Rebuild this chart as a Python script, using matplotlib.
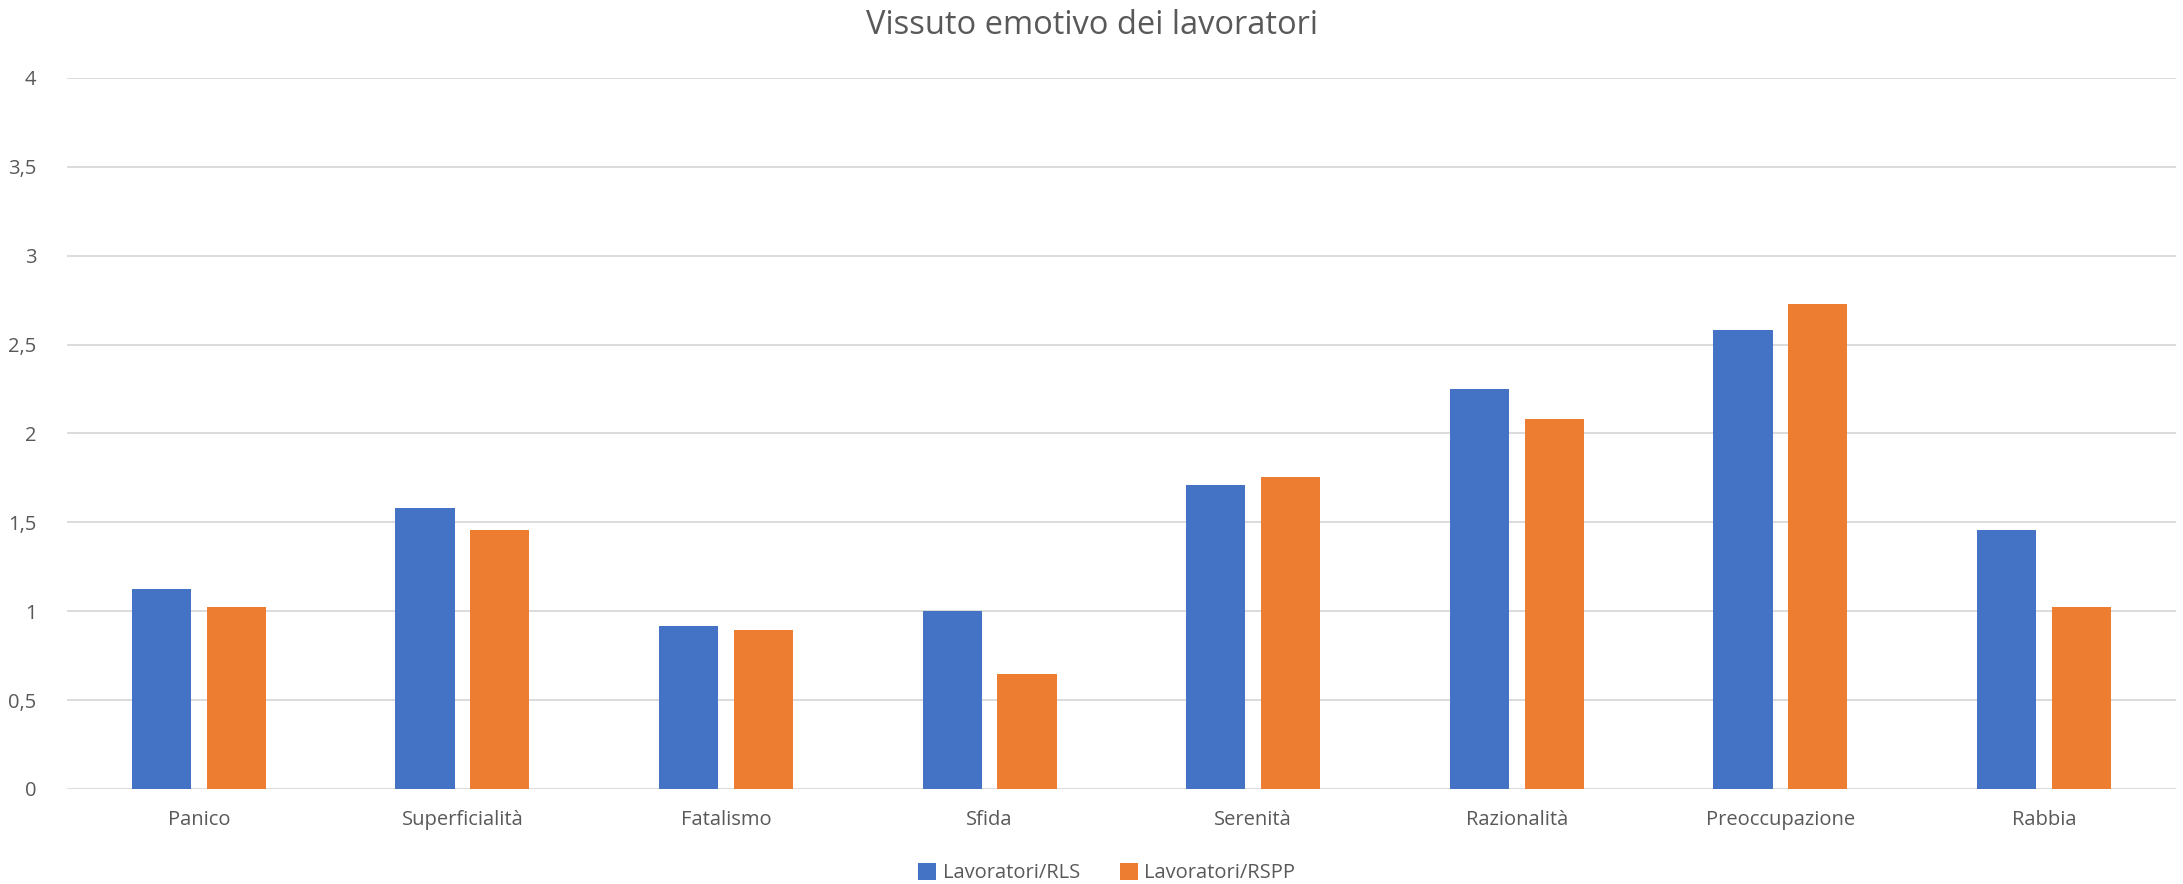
import numpy as np
import matplotlib
matplotlib.use('Agg')
import matplotlib.pyplot as plt
from matplotlib.ticker import FuncFormatter

categories = ['Panico', 'Superficialità', 'Fatalismo', 'Sfida', 'Serenità',
              'Razionalità', 'Preoccupazione', 'Rabbia']
rls = [1.125, 1.583, 0.917, 1.0, 1.708, 2.25, 2.583, 1.458]
rspp = [1.026, 1.459, 0.892, 0.649, 1.757, 2.081, 2.730, 1.026]
series_names = ['Lavoratori/RLS', 'Lavoratori/RSPP']

plt.rcParams['font.family'] = ['Open Sans', 'DejaVu Sans']
txt = '#595959'

fig = plt.figure(figsize=(21.83, 8.84), dpi=100)
ax = fig.add_axes([0.0307, 0.1075, 0.966, 0.8043])

x = np.arange(len(categories))
w = 0.225
off = 0.142
ax.bar(x - off, rls, w, color='#4472C4', label=series_names[0], zorder=3)
ax.bar(x + off, rspp, w, color='#ED7D31', label=series_names[1], zorder=3)

ax.set_xlim(-0.5, len(categories) - 0.5)
ax.set_ylim(0, 4)
ax.set_yticks(np.arange(0, 4.01, 0.5))
ax.yaxis.set_major_formatter(FuncFormatter(lambda v, p: ('%g' % v).replace('.', ',')))
ax.grid(axis='y', color='#d9d9d9', linewidth=1.3, zorder=0)
for s in ax.spines.values():
    s.set_visible(False)
ax.tick_params(axis='both', length=0, colors=txt, labelsize=14.5)
ax.tick_params(axis='y', pad=22)
ax.tick_params(axis='x', pad=15)
ax.set_xticks(x)
ax.set_xticklabels(categories)

fig.text(0.5, 1 - 25 / 884, 'Vissuto emotivo dei lavoratori', ha='center', va='center',
         fontsize=23.5, color=txt)

fig.legend(loc='center', bbox_to_anchor=(0.507, 1 - 873 / 884), ncol=2, frameon=False,
           fontsize=14.5, labelcolor=txt, handlelength=0.9, handleheight=0.9,
           columnspacing=2.0, handletextpad=0.3)

fig.savefig('out.png', dpi=100)
